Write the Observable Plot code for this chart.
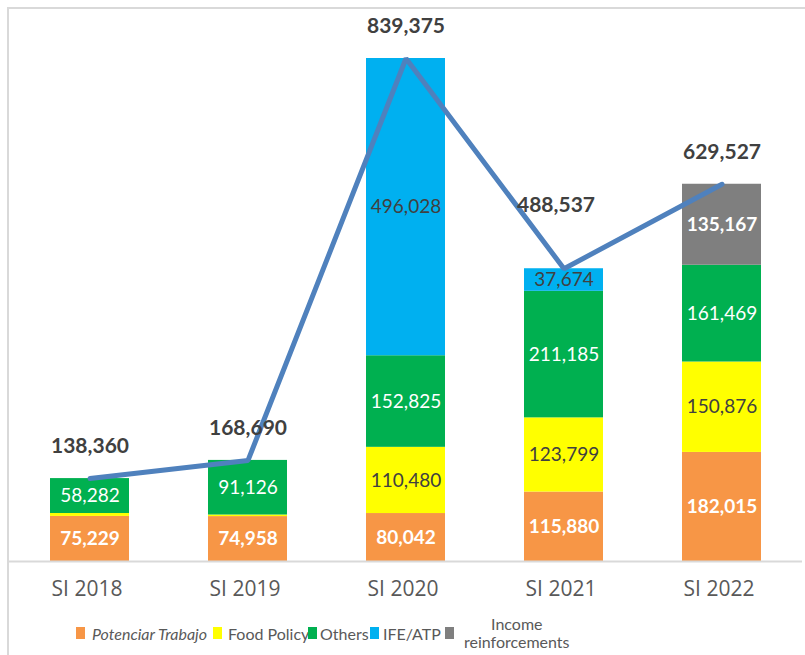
<!DOCTYPE html>
<html>
<head>
<meta charset="utf-8">
<script src="https://cdn.jsdelivr.net/npm/d3@7"></script>
<script src="https://cdn.jsdelivr.net/npm/@observablehq/plot@0.6"></script>
<style>
  body { margin: 0; background: white; }
  #wrap { position: relative; width: 805px; height: 655px; overflow: hidden; }
  #frame { position: absolute; left: 7px; top: 7px; width: 800px; height: 650px; border-top: 2px solid #d9d9d9; border-left: 2px solid #d9d9d9; }
  #chart { position: absolute; left: 0; top: 0; }
  .leg { position: absolute; top: 615px; height: 36px; display: flex; align-items: center; font-family: Lato, sans-serif; font-size: 16px; color: #595959; white-space: nowrap; }
  .sw { display: inline-block; width: 9px; height: 12px; margin-right: 6px; }
</style>
</head>
<body>
<div id="wrap">
  <div id="frame"></div>
  <div id="chart"></div>
</div>
<script>
const categories = ["SI 2018", "SI 2019", "SI 2020", "SI 2021", "SI 2022"];
const seriesNames = ["Potenciar Trabajo", "Food Policy", "Others", "IFE/ATP", "Income reinforcements"];
const seriesColors = ["#f79646", "#ffff00", "#00b050", "#00b0f0", "#7f7f7f"];
const potenciarTrabajo = [75229, 74958, 80042, 115880, 182015];
const foodPolicy = [4849, 2606, 110480, 123799, 150876];
const others = [58282, 91126, 152825, 211185, 161469];
const ifeAtp = [0, 0, 496028, 37674, 0];
const incomeReinforcements = [0, 0, 0, 0, 135167];
const totals = [138360, 168690, 839375, 488537, 629527];

const seriesArrays = [potenciarTrabajo, foodPolicy, others, ifeAtp, incomeReinforcements];
const rows = [];
seriesNames.forEach((s, i) => categories.forEach((c, j) => rows.push({cat: c, series: s, value: seriesArrays[i][j]})));
const totalRows = categories.map((c, i) => ({cat: c, total: totals[i]}));
const fmt = d3.format(",");

const boldWhite = ["Potenciar Trabajo", "Income reinforcements"];
const plainWhite = ["Others"];
const dark = ["Food Policy", "IFE/ATP"];
const lab = (group) => (d) => (group.includes(d.series) && d.value > 20000) ? fmt(d.value) : null;

const stackOpts = {x: "cat", y: "value", z: "series", order: seriesNames};

const chart = Plot.plot({
  width: 805,
  height: 612,
  marginLeft: 8,
  marginRight: 3,
  marginTop: 0,
  marginBottom: 51,
  style: {fontFamily: "Lato, sans-serif", background: "transparent", overflow: "visible"},
  x: {domain: categories, paddingInner: 0.5, paddingOuter: 0.25, label: null},
  y: {domain: [0, 839375], range: [561, 58], axis: null},
  color: {domain: seriesNames, range: seriesColors},
  marks: [
    Plot.barY(rows, {x: "cat", y: "value", fill: "series", order: seriesNames}),
    Plot.ruleY([0], {stroke: "#d9d9d9", strokeWidth: 2}),
    Plot.axisX({tickSize: 0, tickPadding: 20, dx: -3, fontSize: 21, fontFamily: "Open Sans, sans-serif", color: "#595959", label: null}),
    Plot.text(rows, Plot.stackY({...stackOpts, text: lab(boldWhite), fill: "white", fontWeight: "bold", fontSize: 19})),
    Plot.text(rows, Plot.stackY({...stackOpts, text: lab(plainWhite), fill: "white", fontSize: 19})),
    Plot.text(rows, Plot.stackY({...stackOpts, text: lab(dark), fill: "#404040", fontSize: 19})),
    Plot.line(totalRows, {x: "cat", y: "total", stroke: "#4f81bd", strokeWidth: 5, strokeLinejoin: "miter"}),
    Plot.text(totalRows, {x: "cat", y: "total", text: d => fmt(d.total), dy: -32, fontSize: 21, fontWeight: "bold", fill: "#404040", filter: d => d.cat !== "SI 2021"}),
    Plot.text(totalRows, {x: "cat", y: "total", text: d => fmt(d.total), dy: -63, dx: -8, fontSize: 21, fontWeight: "bold", fill: "#404040", filter: d => d.cat === "SI 2021"})
  ]
});
document.getElementById("chart").appendChild(chart);

// Legend
const legendLefts = [76, 213, 308, 370, 445];
const wrap = document.getElementById("wrap");
seriesNames.forEach((s, i) => {
  const item = document.createElement("div");
  item.className = "leg";
  item.style.left = legendLefts[i] + "px";
  const sw = document.createElement("span");
  sw.className = "sw";
  sw.style.background = seriesColors[i];
  item.appendChild(sw);
  const t = document.createElement("span");
  if (s === "Income reinforcements") {
    sw.style.marginRight = "10px";
    t.innerHTML = "Income<br>reinforcements";
    t.style.textAlign = "center";
    t.style.lineHeight = "18px";
    t.style.whiteSpace = "normal";
  } else {
    t.textContent = s;
    if (s === "Potenciar Trabajo") { t.style.fontStyle = "italic"; sw.style.marginRight = "7px"; }
  }
  if (s === "Others") sw.style.marginRight = "3px";
  if (s === "IFE/ATP") sw.style.marginRight = "4px";
  item.appendChild(t);
  wrap.appendChild(item);
});
</script>
</body>
</html>
